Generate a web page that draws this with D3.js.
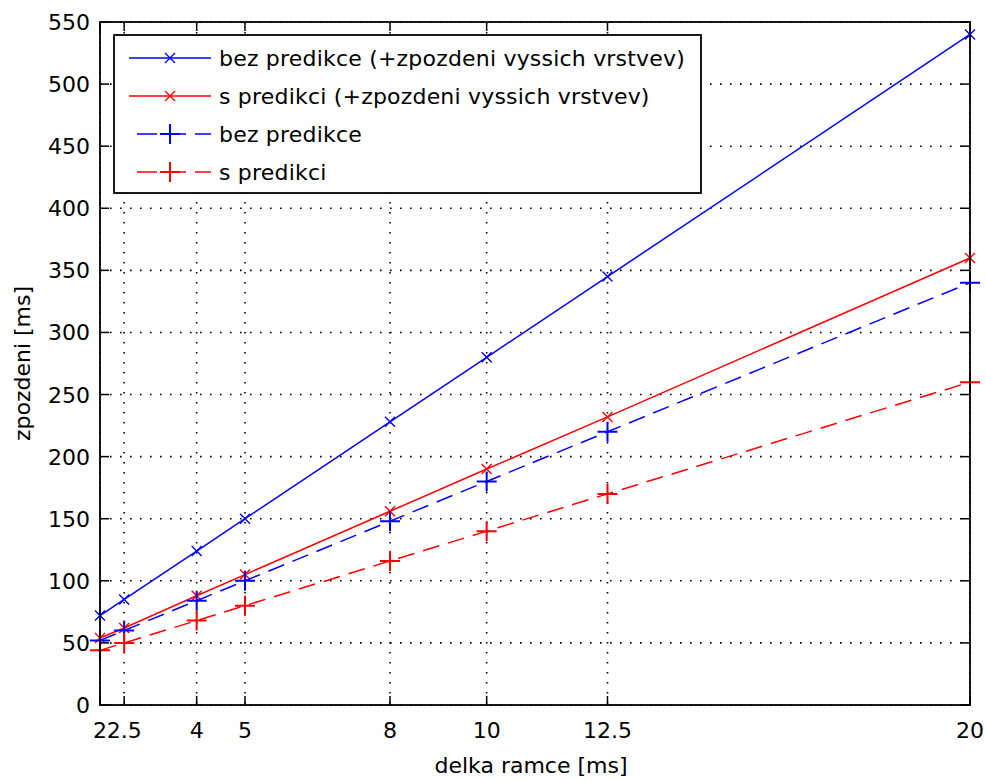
<!DOCTYPE html>
<html>
<head>
<meta charset="utf-8">
<script src="https://cdn.jsdelivr.net/npm/d3@7"></script>
<style>
  html, body { margin: 0; padding: 0; background: #fff; }
  svg { display: block; }
  text { font-family: "DejaVu Sans", sans-serif; fill: #000; }
</style>
</head>
<body>
<svg id="chart" width="986" height="781"></svg>
<script>
// frame lengths [ms]
const frameLengths = [2, 2.5, 4, 5, 8, 10, 12.5, 20]
const xTicks = [2, 2.5, 4, 5, 8, 10, 12.5, 20]
const yTicks = [0, 50, 100, 150, 200, 250, 300, 350, 400, 450, 500, 550]

// delays [ms]
const bezPredikceVyssi = [72, 85, 124, 150, 228, 280, 345, 540]
const sPredikciVyssi = [54, 62, 88, 105, 156, 190, 232, 360]
const bezPredikce = [52, 60, 84, 100, 148, 180, 220, 340]
const sPredikci = [44, 50, 68, 80, 116, 140, 170, 260]

const seriesNames = [
  'bez predikce (+zpozdeni vyssich vrstvev)',
  's predikci (+zpozdeni vyssich vrstvev)',
  'bez predikce',
  's predikci'
]

const series = [
  { name: seriesNames[0], values: bezPredikceVyssi, color: '#0000ff', dash: null, marker: 'x' },
  { name: seriesNames[1], values: sPredikciVyssi, color: '#ff0000', dash: null, marker: 'x' },
  { name: seriesNames[2], values: bezPredikce, color: '#0000ff', dash: '17 9', marker: '+' },
  { name: seriesNames[3], values: sPredikci, color: '#ff0000', dash: '17 9', marker: '+' }
]

const plotL = 100, plotR = 970, plotT = 22, plotB = 705
const svg = d3.select('#chart')

const x = d3.scaleLinear().domain([2, 20]).range([plotL, plotR])
const y = d3.scaleLinear().domain([0, 550]).range([plotB, plotT])

// dotted grid
const grid = svg.append('g')
grid.selectAll('.gx')
  .data(xTicks)
  .enter()
  .append('line')
  .attr('x1', d => x(d)).attr('x2', d => x(d))
  .attr('y1', plotT).attr('y2', plotB)
grid.selectAll('.gy')
  .data(yTicks)
  .enter()
  .append('line')
  .attr('x1', plotL).attr('x2', plotR)
  .attr('y1', d => y(d)).attr('y2', d => y(d))
grid.selectAll('line')
  .attr('stroke', '#000')
  .attr('stroke-width', 1.6)
  .attr('stroke-dasharray', '1.6 8.4')

// markers
function drawMarker(g, type, cx, cy, color) {
  const s = type === 'x' ? 5 : 10
  const p = type === 'x'
    ? `M${cx - s},${cy - s}L${cx + s},${cy + s}M${cx - s},${cy + s}L${cx + s},${cy - s}`
    : `M${cx - s},${cy}L${cx + s},${cy}M${cx},${cy - s}L${cx},${cy + s}`
  g.append('path')
    .attr('d', p)
    .attr('stroke', color)
    .attr('stroke-width', type === 'x' ? 1.4 : 2)
    .attr('fill', 'none')
}

const line = d3.line()
  .x(d => x(d[0]))
  .y(d => y(d[1]))

const plot = svg.append('g')
series.forEach(s => {
  const pts = frameLengths.map((f, i) => [f, s.values[i]])
  plot.append('path')
    .datum(pts)
    .attr('d', line)
    .attr('fill', 'none')
    .attr('stroke', s.color)
    .attr('stroke-width', 1.5)
    .attr('stroke-dasharray', s.dash)
  pts.forEach(p => drawMarker(plot, s.marker, x(p[0]), y(p[1]), s.color))
})

// axes box with inward ticks
const axes = svg.append('g')
axes.append('rect')
  .attr('x', plotL).attr('y', plotT)
  .attr('width', plotR - plotL).attr('height', plotB - plotT)
  .attr('fill', 'none')
  .attr('stroke', '#000')
  .attr('stroke-width', 1.8)

const tickLen = 9
xTicks.forEach(t => {
  axes.append('line').attr('x1', x(t)).attr('x2', x(t)).attr('y1', plotB).attr('y2', plotB - tickLen)
  axes.append('line').attr('x1', x(t)).attr('x2', x(t)).attr('y1', plotT).attr('y2', plotT + tickLen)
})
yTicks.forEach(t => {
  axes.append('line').attr('x1', plotL).attr('x2', plotL + tickLen).attr('y1', y(t)).attr('y2', y(t))
  axes.append('line').attr('x1', plotR).attr('x2', plotR - tickLen).attr('y1', y(t)).attr('y2', y(t))
})
axes.selectAll('line').attr('stroke', '#000').attr('stroke-width', 1.5)

// tick labels
axes.selectAll('.xl')
  .data(xTicks)
  .enter()
  .append('text')
  .attr('x', d => x(d))
  .attr('y', 738)
  .attr('text-anchor', 'middle')
  .style('font-size', '22px')
  .text(d => d)

axes.selectAll('.yl')
  .data(yTicks)
  .enter()
  .append('text')
  .attr('x', 90)
  .attr('y', d => y(d) + 8)
  .attr('text-anchor', 'end')
  .style('font-size', '22px')
  .text(d => d)

// axis titles
svg.append('text')
  .attr('x', 531)
  .attr('y', 773)
  .attr('text-anchor', 'middle')
  .style('font-size', '22px')
  .text('delka ramce [ms]')

svg.append('text')
  .attr('transform', `translate(30,${(plotT + plotB) / 2}) rotate(-90)`)
  .attr('text-anchor', 'middle')
  .style('font-size', '22px')
  .text('zpozdeni [ms]')

// legend
const legend = svg.append('g')
legend.append('rect')
  .attr('x', 114).attr('y', 35)
  .attr('width', 587).attr('height', 158)
  .attr('fill', '#fff')
  .attr('stroke', '#000')
  .attr('stroke-width', 1.8)

const rowY = [58, 96, 134, 172]
series.forEach((s, i) => {
  const ry = rowY[i]
  legend.append('line')
    .attr('x1', s.dash ? 137 : 129).attr('x2', 211)
    .attr('y1', ry).attr('y2', ry)
    .attr('stroke', s.color)
    .attr('stroke-width', 1.5)
    .attr('stroke-dasharray', s.dash ? '20 9' : null)
  drawMarker(legend, s.marker, 170, ry, s.color)
  legend.append('text')
    .attr('x', 219)
    .attr('y', ry + 8)
    .style('font-size', '22px')
    .style('letter-spacing', '0.2px')
    .text(s.name)
})
</script>
</body>
</html>
